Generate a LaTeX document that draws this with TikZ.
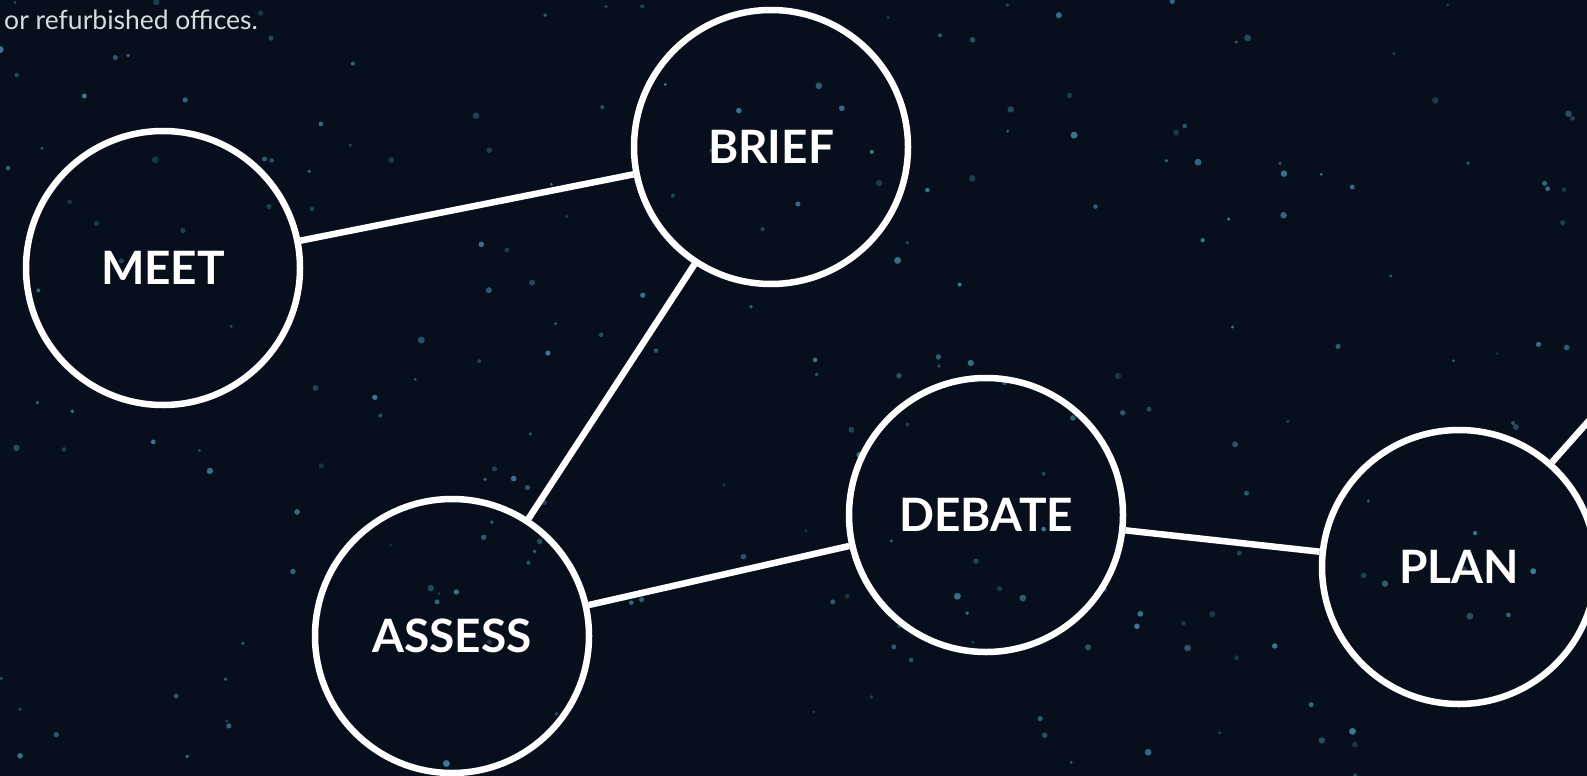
\documentclass[tikz,border=0pt]{standalone}
\usepackage{fontspec}
\setmainfont{Lato}
\usetikzlibrary{positioning}

\definecolor{night}{RGB}{6,15,27}
\definecolor{starblue}{RGB}{80,160,190}

\begin{document}
\begin{tikzpicture}[x=1pt, y=-1pt, line width=6.5pt,
    step node/.style={circle, draw=white, minimum size=274pt, inner sep=0pt,
        text=white, font=\fontsize{46}{50}\selectfont\bfseries},
    link/.style={draw=white, line width=6.5pt}]
    % background
    \fill[night] (0,0) rectangle (1587,776);
    \useasboundingbox (0,0) rectangle (1587,776);
    \clip (0,0) rectangle (1587,776);
    \pgfmathsetseed{11}
    \foreach \i in {1,...,220} {
        \pgfmathsetmacro\sx{rnd*1587}
        \pgfmathsetmacro\sy{rnd*776}
        \pgfmathsetmacro\so{0.25+0.5*rnd}
        \pgfmathsetmacro\sr{1.5+2*rnd}
        \fill[starblue, opacity=\so] (\sx,\sy) circle (\sr);
    }

    \node[anchor=base west, inner sep=0pt, text=white!85!night,
        font=\fontsize{26.5}{30}\selectfont] (intro) at (1,30) {or refurbished offices.};

    \node[step node] (meet) at (163,268) {MEET};
    \node[step node] (brief) at (771,147) {BRIEF};
    \node[step node] (assess) at (452,636) {ASSESS};
    \node[step node] (debate) at (986,515) {DEBATE};
    \node[step node] (plan) at (1459,567) {PLAN};
    \coordinate (next) at (1625,380);

    \path[link]
    (meet) -- (brief)
    (brief) -- (assess)
    (assess) -- (debate)
    (debate) -- (plan)
    (plan) -- (next);
\end{tikzpicture}
\end{document}
